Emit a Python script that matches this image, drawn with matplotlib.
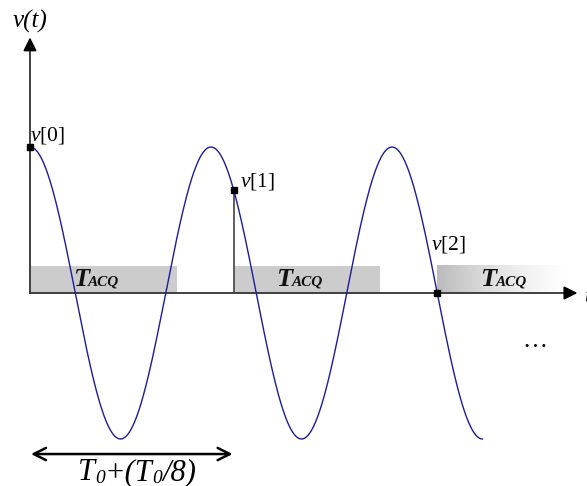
import numpy as np
from matplotlib import pyplot as plt

plt.rcParams["mathtext.fontset"] = "custom"
plt.rcParams["mathtext.rm"] = "Liberation Serif"
plt.rcParams["mathtext.it"] = "Liberation Serif:italic"
plt.rcParams["mathtext.bf"] = "Liberation Serif:bold"
plt.rcParams["font.family"] = "Liberation Serif"

#Signal and sampling parameters (time in periods T0, amplitude normalised)
n_periods = 2.5
sample_times = [0.0, 1.125, 2.25]
sample_labels = ["v[0]", "v[1]", "v[2]"]
acq_length = 0.81
acq_height = 0.185
interval_text = [("T", 22), ("0", 14), ("+(T", 22), ("0", 14), ("/8)", 22)]

t = np.linspace(0, n_periods, 600)
v = np.cos(2*np.pi*t)

fig = plt.figure(figsize=(5.87, 4.86), dpi=100)
ax = fig.add_axes([0, 0, 1, 1])
ax.set_xlim(-30/181, 557/181)
ax.set_ylim(-193/146, 293/146)
ax.axis("off")

#Acquisition windows
for i, ts in enumerate(sample_times):
    if i < 2:
        ax.fill_between([ts, ts+acq_length], 0, acq_height, color="#cccccc", lw=0, zorder=1)
    else:
        grad = np.linspace(0, 1, 256).reshape(1, -1)
        ax.imshow(grad, cmap="Greys_r", vmin=-1.6, vmax=1.0, aspect="auto",
                  extent=[ts, ts+0.70, 0, acq_height], zorder=1, interpolation="bilinear")
    ax.text(ts+0.237, 0.05, "T", fontsize=19, fontweight="bold", style="italic",
            va="baseline", ha="left", zorder=4, color="#111111")
    ax.text(ts+0.237+0.085, 0.05, "ACQ", fontsize=11, fontweight="bold", style="italic",
            va="baseline", ha="left", zorder=4, color="#111111")

#Axes with arrows
ax.plot([0, 3.0], [0, 0], color="#333333", lw=1.3, zorder=2)
ax.plot([0, 0], [0, 1.72], color="#333333", lw=1.3, zorder=2)
ax.annotate("", xy=(3.04, 0), xytext=(2.95, 0),
            arrowprops=dict(arrowstyle="-|>", color="black", lw=1.3, mutation_scale=20), zorder=3)
ax.annotate("", xy=(0, 1.77), xytext=(0, 1.65),
            arrowprops=dict(arrowstyle="-|>", color="black", lw=1.3, mutation_scale=20), zorder=3)
ax.text(0.0, 1.86, "v(t)", fontsize=18, style="italic", ha="center", va="center")
ax.text(3.06, -0.03, "t", fontsize=16, style="italic", ha="left", va="center")

#Signal
ax.plot(t, v, color="#1c1c9c", lw=1.0, zorder=3)

#Samples
vs = np.cos(2*np.pi*np.array(sample_times))
ax.vlines(sample_times[1], 0, vs[1], color="#444444", lw=1.2, zorder=2)
ax.plot(sample_times, vs, "s", color="black", ms=4, zorder=5)
label_pos = [(0.0, 1.01), (1.158, 0.69), (2.215, 0.26)]
for lab, (lx, ly) in zip(sample_labels, label_pos):
    ax.text(lx, ly, "$v$" + lab[1:], fontsize=15.5, ha="left", va="bottom")

ax.text(2.79, -0.33, "\u2026", fontsize=18, ha="center", va="center")

#Sampling interval
ax.annotate("", xy=(-0.01, -1.103), xytext=(1.135, -1.103),
            arrowprops=dict(arrowstyle="<->", color="black", lw=1.8, mutation_scale=22))
prev = ax.text(0.265, -1.28, interval_text[0][0], fontsize=interval_text[0][1],
               style="italic", ha="left", va="baseline")
for s, size in interval_text[1:]:
    prev = ax.annotate(s, xy=(1, 0), xycoords=prev, fontsize=size, style="italic",
                       ha="left", va="bottom")

plt.savefig("out.png", dpi=100)
